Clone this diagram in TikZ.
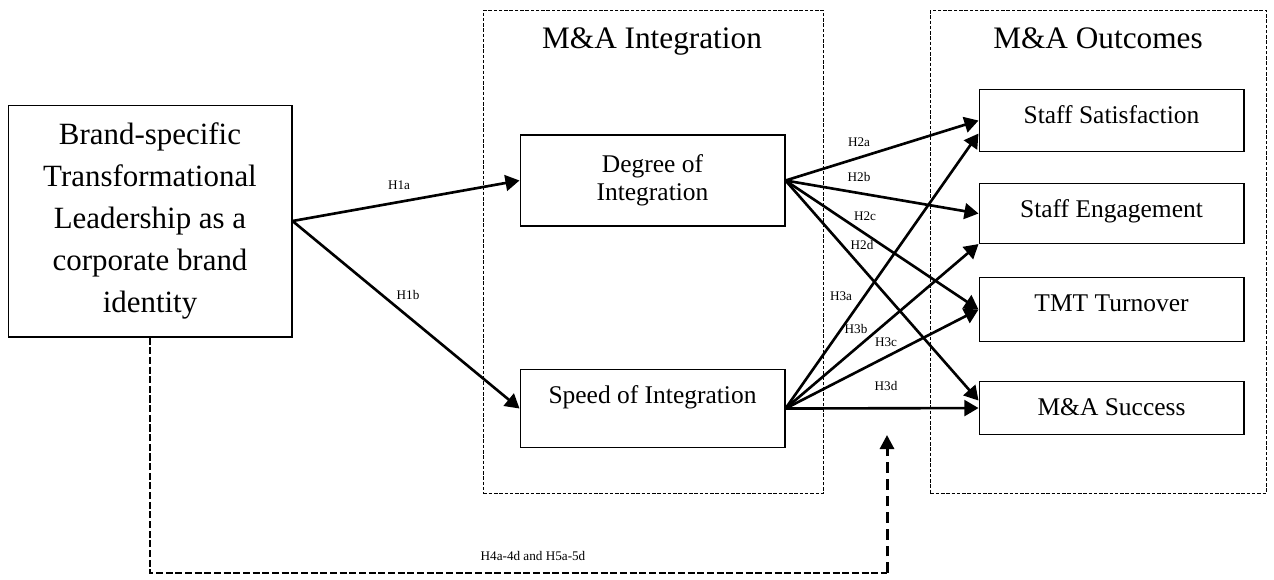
\documentclass[tikz,border=0pt]{standalone}
\usepackage{fontspec}
\setmainfont{Liberation Serif}
\usetikzlibrary{arrows.meta}

\begin{document}
\begin{tikzpicture}
  [x=0.02cm,y=-0.02cm,
   box/.style={draw,line width=0.6pt,inner sep=0pt,align=center,minimum width=5.3cm,font=\fontsize{14.5}{16}\selectfont},
   outbox/.style={box,anchor=north,text height=0.68cm,text depth=#1},
   group/.style={draw,dash pattern=on 2pt off 1pt,line width=0.5pt,inner sep=0pt,anchor=north west,minimum height=9.66cm},
   title/.style={anchor=base,font=\fontsize{17.8}{20}\selectfont},
   hyp/.style={inner sep=0pt,font=\fontsize{7.5}{9}\selectfont},
   arr/.style={line width=1.5pt,-{Triangle[length=8pt,width=9pt]}},
   link/.style={line width=1pt,dash pattern=on 4pt off 1.5pt},
   linkarr/.style={line width=1.7pt,dash pattern=on 6pt off 3.5pt,-{Triangle[length=8pt,width=8pt]}}]
  \useasboundingbox (0,0) rectangle (1274,579);

  % the two groups
  \node[group,minimum width=6.8cm] (integ) at (483,10) {};
  \node[group,minimum width=6.72cm] (outc) at (930,10) {};
  \node[title] (tinteg) at (652,48) {M\&A Integration};
  \node[title] (toutc) at (1098,48) {M\&A Outcomes};

  % leadership, integration and outcome boxes
  \node[box,minimum width=5.68cm,minimum height=4.64cm,font=\fontsize{17.6}{23.8}\selectfont] (brand) at (150,221)
    {Brand-specific\\Transformational\\Leadership as a\\corporate brand\\identity};
  \node[box,minimum height=1.82cm] (deg) at (652.5,180.5) {Degree of\\Integration};
  \node[outbox=0.88cm] (speed) at (652.5,369) {Speed of Integration};
  \node[outbox=0.56cm] (sat) at (1111.5,89) {Staff Satisfaction};
  \node[outbox=0.52cm] (eng) at (1111.5,183) {Staff Engagement};
  \node[outbox=0.60cm] (tmt) at (1111.5,277) {TMT Turnover};
  \node[outbox=0.38cm] (suc) at (1111.5,381) {M\&A Success};

  % hypotheses
  \foreach \from/\to in {brand.east/deg.west,brand.east/speed.west,
      deg.east/sat.west,deg.east/eng.west,deg.east/tmt.west,
      speed.east/eng.south west,speed.east/tmt.west,speed.east/suc.west}
    \draw[arr] (\from) -- (\to);
  \draw[arr] (deg.east) -- ([yshift=0.15cm]suc.west);
  \draw[arr] (speed.east) -- ([yshift=-0.26cm]sat.west);

  \node[hyp] (h1a) at (399,185) {H1a};
  \node[hyp] (h1b) at (408,295) {H1b};
  \node[hyp] (h2a) at (859,142) {H2a};
  \node[hyp] (h2b) at (859,177) {H2b};
  \node[hyp] (h2c) at (865,216) {H2c};
  \node[hyp] (h2d) at (862,245) {H2d};
  \node[hyp] (h3a) at (841,296) {H3a};
  \node[hyp] (h3b) at (856,329) {H3b};
  \node[hyp] (h3c) at (886,342) {H3c};
  \node[hyp] (h3d) at (886,386) {H3d};

  % moderation path
  \coordinate (corner) at (887,573);
  \coordinate (tip) at (887,435);
  \draw[link] (brand.south) |- (corner);
  \draw[linkarr] (corner) -- (tip);
  \node[hyp] (h45) at (533,556) {H4a-4d and H5a-5d};

\end{tikzpicture}
\end{document}
